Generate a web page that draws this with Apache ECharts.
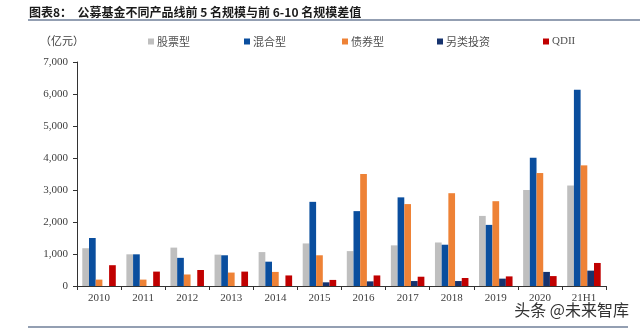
<!DOCTYPE html>
<html>
<head>
<meta charset="utf-8">
<script src="https://cdn.jsdelivr.net/npm/echarts@6/dist/echarts.min.js"></script>
<style>
  html, body { margin: 0; padding: 0; background: #fff; }
  #chart { width: 640px; height: 331px; }
</style>
</head>
<body>
<div id="chart"></div>
<script>
// Categories (years) and the gap between top-5 and rank 6-10 scale, in 100 million yuan
const years = ['2010', '2011', '2012', '2013', '2014', '2015', '2016', '2017', '2018', '2019', '2020', '21H1'];
const stockFund  = [1180, 990, 1200, 980, 1060, 1330, 1090, 1270, 1360, 2190, 3000, 3140];
const hybridFund = [1500, 990, 880, 960, 760, 2630, 2340, 2770, 1290, 1910, 4010, 6130];
const bondFund   = [200, 200, 360, 420, 440, 960, 3500, 2560, 2900, 2650, 3530, 3770];
const altInvest  = [0, 0, 0, 0, 0, 115, 145, 155, 155, 230, 440, 480];
const qdiiFund   = [650, 450, 500, 450, 330, 190, 330, 290, 250, 300, 310, 720];

const seriesNames = ['股票型', '混合型', '债券型', '另类投资', 'QDII'];
const seriesData = [stockFund, hybridFund, bondFund, altInvest, qdiiFund];
const colors = ['#BFBFBF', '#0A4E9E', '#EE8236', '#16336E', '#C00000'];
const legendLeft = [148, 244, 342, 437, 543];

const cjk = '"Noto Sans CJK SC", sans-serif';
const serif = '"Liberation Serif", "DejaVu Serif", serif';

const chart = echarts.init(document.getElementById('chart'), null, { renderer: 'canvas' });

chart.setOption({
  animation: false,
  backgroundColor: '#ffffff',
  color: colors,
  legend: seriesNames.map((n, i) => ({
    data: [n],
    left: legendLeft[i],
    top: 36,
    icon: 'rect',
    itemWidth: 6,
    itemHeight: 6,
    itemGap: 0,
    padding: 0,
    textStyle: { fontFamily: i === 4 ? serif : cjk, fontSize: 11, color: '#505050', padding: [0, 0, 0, -2] }
  })),
  grid: { left: 77, right: 34, top: 62, bottom: 45 },
  xAxis: {
    type: 'category',
    data: years,
    axisLine: { lineStyle: { color: '#333', width: 1 } },
    axisTick: { show: true, alignWithLabel: false, length: 4, lineStyle: { color: '#333' } },
    axisLabel: { fontFamily: serif, fontSize: 11, color: '#404040', margin: 7 }
  },
  yAxis: {
    type: 'value',
    min: 0,
    max: 7000,
    interval: 1000,
    axisLine: { show: true, lineStyle: { color: '#333', width: 1 } },
    axisTick: { show: true, length: 4, inside: false, lineStyle: { color: '#333' } },
    splitLine: { show: false },
    axisLabel: {
      fontFamily: serif, fontSize: 11, color: '#404040', margin: 9,
      formatter: v => v.toLocaleString('en-US')
    }
  },
  series: seriesNames.map((n, i) => ({
    name: n,
    type: 'bar',
    data: seriesData[i],
    barGap: '0%',
    barCategoryGap: '24%',
    itemStyle: { color: colors[i] }
  })),
  graphic: [
    {
      type: 'text', left: 29, top: 6,
      style: { text: '图表8：  公募基金不同产品线前 5 名规模与前 6-10 名规模差值', font: 'bold 12px ' + cjk, fill: '#1a1a1a' }
    },
    {
      type: 'line', shape: { x1: 28, y1: 20, x2: 640, y2: 20 },
      style: { stroke: '#6F7F99', lineWidth: 1.5 }
    },
    {
      type: 'text', left: 40, top: 35,
      style: { text: '（亿元）', font: '11px ' + cjk, fill: '#404040' }
    },
    {
      type: 'text', right: 11, top: 302,
      style: { text: '头条 @未来智库', font: '16px ' + cjk, fill: '#333' }
    },
    {
      type: 'line', shape: { x1: 28, y1: 327, x2: 628, y2: 327 },
      style: { stroke: '#6F7F99', lineWidth: 1.5 }
    }
  ]
});
</script>
</body>
</html>
